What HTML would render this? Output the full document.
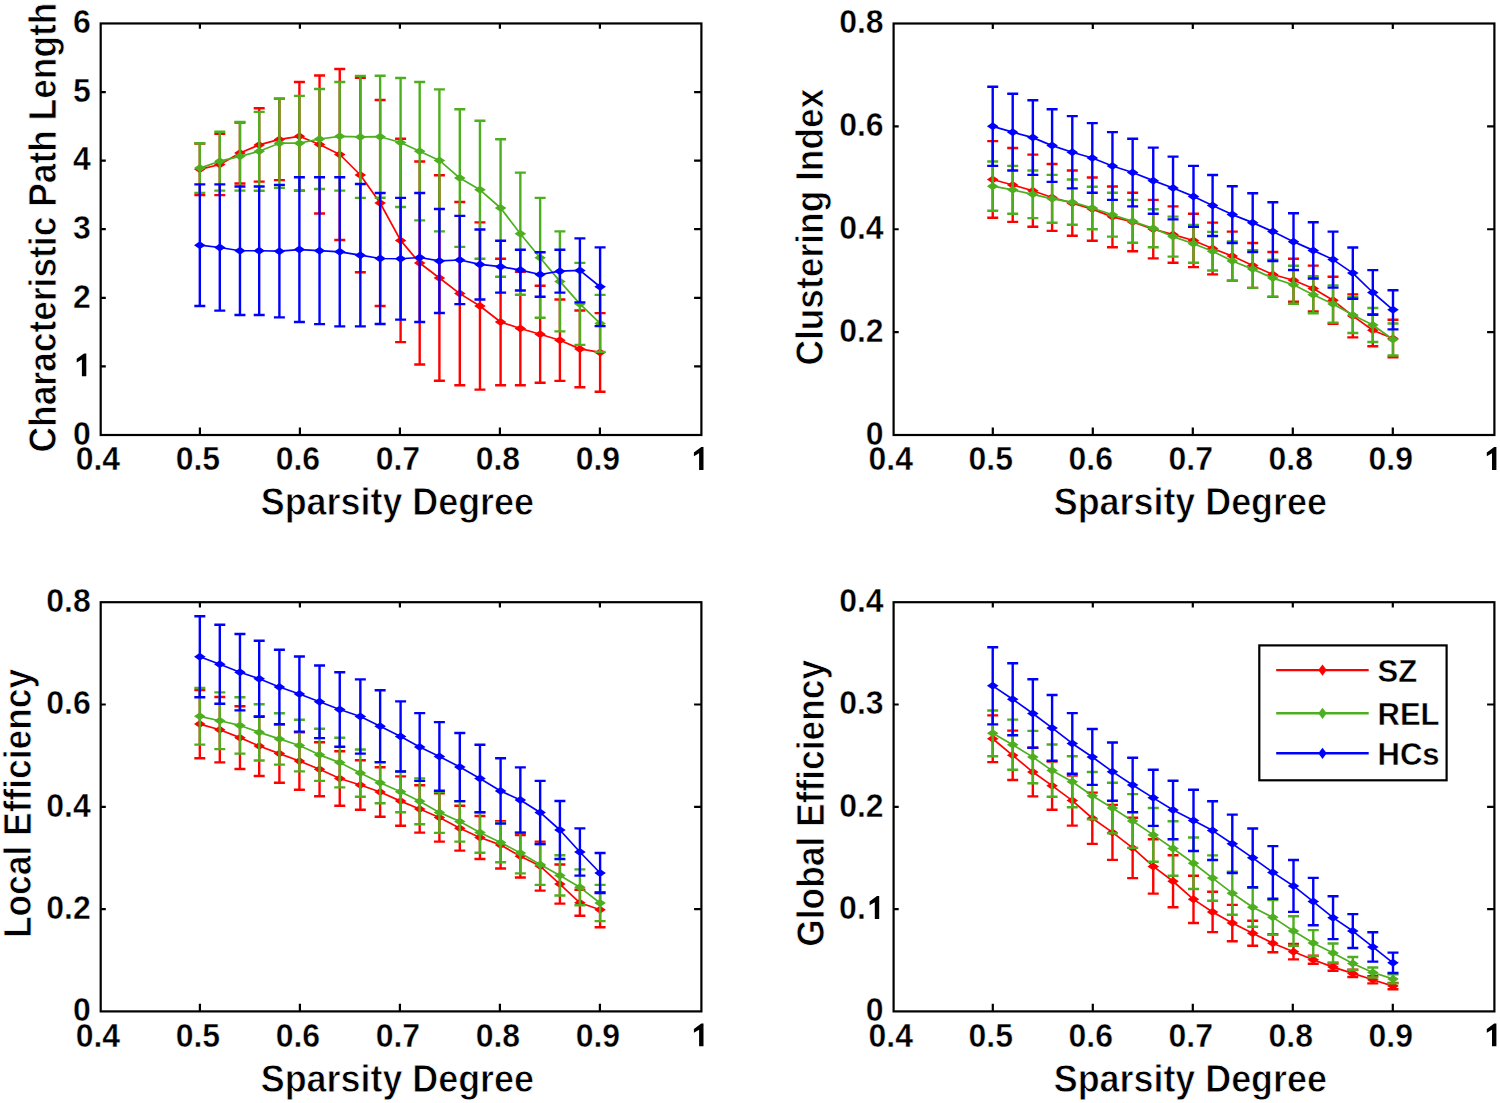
<!DOCTYPE html>
<html><head><meta charset="utf-8"><style>
html,body{margin:0;padding:0;background:#fff;}
body{width:1500px;height:1103px;overflow:hidden;}
svg{display:block;}
text{font-family:"Liberation Sans", sans-serif;font-weight:bold;fill:#000;}
.tk{font-size:32px;stroke:#fff;stroke-width:0.4px;}
.lb{font-size:35.5px;stroke:#fff;stroke-width:0.7px;}
.lg{font-size:31px;stroke:#fff;stroke-width:0.4px;}
</style></head><body>
<svg width="1500" height="1103" viewBox="0 0 1500 1103">
<rect width="1500" height="1103" fill="#fff"/>
<path d="M199.82 143.5V195.1M194.32 143.5H205.32M194.32 195.1H205.32M219.8 133.9V195.1M214.3 133.9H225.3M214.3 195.1H225.3M239.95 122.5V183.5M234.45 122.5H245.45M234.45 183.5H245.45M259.2 108.2V181.6M253.7 108.2H264.7M253.7 181.6H264.7M279.4 98.7V180.1M273.9 98.7H284.9M273.9 180.1H284.9M299.4 82V190.6M293.9 82H304.9M293.9 190.6H304.9M319.55 75.5V213.5M314.05 75.5H325.05M314.05 213.5H325.05M339.75 69V240M334.25 69H345.25M334.25 240H345.25M360.35 77.8V272.2M354.85 77.8H365.85M354.85 272.2H365.85M380.15 100V306M374.65 100H385.65M374.65 306H385.65M400.6 138.7V342.1M395.1 138.7H406.1M395.1 342.1H406.1M419.7 161.5V364.5M414.2 161.5H425.2M414.2 364.5H425.2M439.4 175.2V380.8M433.9 175.2H444.9M433.9 380.8H444.9M459.8 202V385.2M454.3 202H465.3M454.3 385.2H465.3M479.95 222.4V389.6M474.45 222.4H485.45M474.45 389.6H485.45M500.6 258.8V385.2M495.1 258.8H506.1M495.1 385.2H506.1M520.35 271.8V385.2M514.85 271.8H525.85M514.85 385.2H525.85M540.15 285.8V382.8M534.65 285.8H545.65M534.65 382.8H545.65M559.9 299.5V380.9M554.4 299.5H565.4M554.4 380.9H565.4M579.9 310.5V387.3M574.4 310.5H585.4M574.4 387.3H585.4M600.1 313.1V391.7M594.6 313.1H605.6M594.6 391.7H605.6" stroke="#ff0000" stroke-width="2.4" fill="none"/>
<polyline points="199.82,169.3 219.8,164.5 239.95,153 259.2,144.9 279.4,139.4 299.4,136.3 319.55,144.5 339.75,154.5 360.35,175 380.15,203 400.6,240.4 419.7,263 439.4,278 459.8,293.6 479.95,306 500.6,322 520.35,328.5 540.15,334.3 559.9,340.2 579.9,348.9 600.1,352.4" stroke="#ff0000" stroke-width="1.7" fill="none" stroke-linejoin="round"/>
<path d="M194.02 169.3L199.82 165.3L205.62 169.3L199.82 173.3ZM214 164.5L219.8 160.5L225.6 164.5L219.8 168.5ZM234.15 153L239.95 149L245.75 153L239.95 157ZM253.4 144.9L259.2 140.9L265 144.9L259.2 148.9ZM273.6 139.4L279.4 135.4L285.2 139.4L279.4 143.4ZM293.6 136.3L299.4 132.3L305.2 136.3L299.4 140.3ZM313.75 144.5L319.55 140.5L325.35 144.5L319.55 148.5ZM333.95 154.5L339.75 150.5L345.55 154.5L339.75 158.5ZM354.55 175L360.35 171L366.15 175L360.35 179ZM374.35 203L380.15 199L385.95 203L380.15 207ZM394.8 240.4L400.6 236.4L406.4 240.4L400.6 244.4ZM413.9 263L419.7 259L425.5 263L419.7 267ZM433.6 278L439.4 274L445.2 278L439.4 282ZM454 293.6L459.8 289.6L465.6 293.6L459.8 297.6ZM474.15 306L479.95 302L485.75 306L479.95 310ZM494.8 322L500.6 318L506.4 322L500.6 326ZM514.55 328.5L520.35 324.5L526.15 328.5L520.35 332.5ZM534.35 334.3L540.15 330.3L545.95 334.3L540.15 338.3ZM554.1 340.2L559.9 336.2L565.7 340.2L559.9 344.2ZM574.1 348.9L579.9 344.9L585.7 348.9L579.9 352.9ZM594.3 352.4L600.1 348.4L605.9 352.4L600.1 356.4Z" fill="#ff0000"/>
<path d="M199.82 143.3V192.9M194.32 143.3H205.32M194.32 192.9H205.32M219.8 131.8V190.6M214.3 131.8H225.3M214.3 190.6H225.3M239.95 122V190.6M234.45 122H245.45M234.45 190.6H245.45M259.2 111.9V190.7M253.7 111.9H264.7M253.7 190.7H264.7M279.4 98.7V187.7M273.9 98.7H284.9M273.9 187.7H284.9M299.4 95.9V190.5M293.9 95.9H304.9M293.9 190.5H304.9M319.55 89V189M314.05 89H325.05M314.05 189H325.05M339.75 82V190.6M334.25 82H345.25M334.25 190.6H345.25M360.35 75.9V197.9M354.85 75.9H365.85M354.85 197.9H365.85M380.15 75.7V197.7M374.65 75.7H385.65M374.65 197.7H385.65M400.6 78V207M395.1 78H406.1M395.1 207H406.1M419.7 82V220.4M414.2 82H425.2M414.2 220.4H425.2M439.4 89.4V231.4M433.9 89.4H444.9M433.9 231.4H444.9M459.8 109.3V246.9M454.3 109.3H465.3M454.3 246.9H465.3M479.95 120.8V258.8M474.45 120.8H485.45M474.45 258.8H485.45M500.6 139.2V276.8M495.1 139.2H506.1M495.1 276.8H506.1M520.35 172.6V294.8M514.85 172.6H525.85M514.85 294.8H525.85M540.15 197.9V317.7M534.65 197.9H545.65M534.65 317.7H545.65M559.9 231.4V331.4M554.4 231.4H565.4M554.4 331.4H565.4M579.9 262.9V344.9M574.4 262.9H585.4M574.4 344.9H585.4M600.1 294.9V351.9M594.6 294.9H605.6M594.6 351.9H605.6" stroke="#4daf1f" stroke-width="2.4" fill="none"/>
<polyline points="199.82,168.1 219.8,161.2 239.95,156.3 259.2,151.3 279.4,143.2 299.4,143.2 319.55,139 339.75,136.3 360.35,136.9 380.15,136.7 400.6,142.5 419.7,151.2 439.4,160.4 459.8,178.1 479.95,189.8 500.6,208 520.35,233.7 540.15,257.8 559.9,281.4 579.9,303.9 600.1,323.4" stroke="#4daf1f" stroke-width="1.7" fill="none" stroke-linejoin="round"/>
<path d="M194.02 168.1L199.82 164.1L205.62 168.1L199.82 172.1ZM214 161.2L219.8 157.2L225.6 161.2L219.8 165.2ZM234.15 156.3L239.95 152.3L245.75 156.3L239.95 160.3ZM253.4 151.3L259.2 147.3L265 151.3L259.2 155.3ZM273.6 143.2L279.4 139.2L285.2 143.2L279.4 147.2ZM293.6 143.2L299.4 139.2L305.2 143.2L299.4 147.2ZM313.75 139L319.55 135L325.35 139L319.55 143ZM333.95 136.3L339.75 132.3L345.55 136.3L339.75 140.3ZM354.55 136.9L360.35 132.9L366.15 136.9L360.35 140.9ZM374.35 136.7L380.15 132.7L385.95 136.7L380.15 140.7ZM394.8 142.5L400.6 138.5L406.4 142.5L400.6 146.5ZM413.9 151.2L419.7 147.2L425.5 151.2L419.7 155.2ZM433.6 160.4L439.4 156.4L445.2 160.4L439.4 164.4ZM454 178.1L459.8 174.1L465.6 178.1L459.8 182.1ZM474.15 189.8L479.95 185.8L485.75 189.8L479.95 193.8ZM494.8 208L500.6 204L506.4 208L500.6 212ZM514.55 233.7L520.35 229.7L526.15 233.7L520.35 237.7ZM534.35 257.8L540.15 253.8L545.95 257.8L540.15 261.8ZM554.1 281.4L559.9 277.4L565.7 281.4L559.9 285.4ZM574.1 303.9L579.9 299.9L585.7 303.9L579.9 307.9ZM594.3 323.4L600.1 319.4L605.9 323.4L600.1 327.4Z" fill="#4daf1f"/>
<path d="M199.82 184.4V306M194.32 184.4H205.32M194.32 306H205.32M219.8 184.4V310.6M214.3 184.4H225.3M214.3 310.6H225.3M239.95 186.5V315M234.45 186.5H245.45M234.45 315H245.45M259.2 186.5V315M253.7 186.5H264.7M253.7 315H264.7M279.4 184.9V317.4M273.9 184.9H284.9M273.9 317.4H284.9M299.4 177.2V322M293.9 177.2H304.9M293.9 322H304.9M319.55 177.2V324.1M314.05 177.2H325.05M314.05 324.1H325.05M339.75 177.2V326.4M334.25 177.2H345.25M334.25 326.4H345.25M360.35 184V326.4M354.85 184H365.85M354.85 326.4H365.85M380.15 193V324M374.65 193H385.65M374.65 324H385.65M400.6 197.9V319.6M395.1 197.9H406.1M395.1 319.6H406.1M419.7 193V322M414.2 193H425.2M414.2 322H425.2M439.4 208.95V312.95M433.9 208.95H444.9M433.9 312.95H444.9M459.8 215.9V304.1M454.3 215.9H465.3M454.3 304.1H465.3M479.95 229.45V299.45M474.45 229.45H485.45M474.45 299.45H485.45M500.6 240.7V292.6M495.1 240.7H506.1M495.1 292.6H506.1M520.35 249.7V290.5M514.85 249.7H525.85M514.85 290.5H525.85M540.15 252.3V296.7M534.65 252.3H545.65M534.65 296.7H545.65M559.9 249.7V292.6M554.4 249.7H565.4M554.4 292.6H565.4M579.9 238.4V302.4M574.4 238.4H585.4M574.4 302.4H585.4M600.1 247.4V326.1M594.6 247.4H605.6M594.6 326.1H605.6" stroke="#0000ff" stroke-width="2.4" fill="none"/>
<polyline points="199.82,245.2 219.8,247.5 239.95,250.75 259.2,250.75 279.4,251.15 299.4,249.6 319.55,250.65 339.75,251.8 360.35,255.2 380.15,258.5 400.6,258.75 419.7,257.5 439.4,260.95 459.8,260 479.95,264.45 500.6,266.65 520.35,270.1 540.15,274.5 559.9,271.15 579.9,270.4 600.1,286.75" stroke="#0000ff" stroke-width="1.7" fill="none" stroke-linejoin="round"/>
<path d="M194.02 245.2L199.82 241.2L205.62 245.2L199.82 249.2ZM214 247.5L219.8 243.5L225.6 247.5L219.8 251.5ZM234.15 250.75L239.95 246.75L245.75 250.75L239.95 254.75ZM253.4 250.75L259.2 246.75L265 250.75L259.2 254.75ZM273.6 251.15L279.4 247.15L285.2 251.15L279.4 255.15ZM293.6 249.6L299.4 245.6L305.2 249.6L299.4 253.6ZM313.75 250.65L319.55 246.65L325.35 250.65L319.55 254.65ZM333.95 251.8L339.75 247.8L345.55 251.8L339.75 255.8ZM354.55 255.2L360.35 251.2L366.15 255.2L360.35 259.2ZM374.35 258.5L380.15 254.5L385.95 258.5L380.15 262.5ZM394.8 258.75L400.6 254.75L406.4 258.75L400.6 262.75ZM413.9 257.5L419.7 253.5L425.5 257.5L419.7 261.5ZM433.6 260.95L439.4 256.95L445.2 260.95L439.4 264.95ZM454 260L459.8 256L465.6 260L459.8 264ZM474.15 264.45L479.95 260.45L485.75 264.45L479.95 268.45ZM494.8 266.65L500.6 262.65L506.4 266.65L500.6 270.65ZM514.55 270.1L520.35 266.1L526.15 270.1L520.35 274.1ZM534.35 274.5L540.15 270.5L545.95 274.5L540.15 278.5ZM554.1 271.15L559.9 267.15L565.7 271.15L559.9 275.15ZM574.1 270.4L579.9 266.4L585.7 270.4L579.9 274.4ZM594.3 286.75L600.1 282.75L605.9 286.75L600.1 290.75Z" fill="#0000ff"/>
<path d="M199.9 435V427.4M199.9 23.45V28.85M299.9 435V427.4M299.9 23.45V28.85M399.9 435V427.4M399.9 23.45V28.85M499.9 435V427.4M499.9 23.45V28.85M599.9 435V427.4M599.9 23.45V28.85M100.7 366.41H105.8M701.4 366.41H694.1M100.7 297.82H105.8M701.4 297.82H694.1M100.7 229.22H105.8M701.4 229.22H694.1M100.7 160.63H105.8M701.4 160.63H694.1M100.7 92.04H105.8M701.4 92.04H694.1" stroke="#000" stroke-width="2.2" fill="none"/>
<rect x="100.7" y="23.45" width="600.7" height="411.55" fill="none" stroke="#000" stroke-width="2.2"/>
<text transform="translate(97.9 470.4) scale(1 1.045)" class="tk" text-anchor="middle">0.4</text>
<text transform="translate(197.9 470.4) scale(1 1.045)" class="tk" text-anchor="middle">0.5</text>
<text transform="translate(297.9 470.4) scale(1 1.045)" class="tk" text-anchor="middle">0.6</text>
<text transform="translate(397.9 470.4) scale(1 1.045)" class="tk" text-anchor="middle">0.7</text>
<text transform="translate(497.9 470.4) scale(1 1.045)" class="tk" text-anchor="middle">0.8</text>
<text transform="translate(597.9 470.4) scale(1 1.045)" class="tk" text-anchor="middle">0.9</text>
<path d="M703.5 469.9L703.5 447.1L701.3 447.1L693.9 452.5L693.9 456.3L699.1 453.3L699.1 469.9Z" fill="#000"/>
<text transform="translate(90.7 444.8) scale(1 1.05)" class="tk" text-anchor="end">0</text>
<path d="M86.3 376.21L86.3 353.41L84.1 353.41L76.7 358.81L76.7 362.61L81.9 359.61L81.9 376.21Z" fill="#000"/>
<text transform="translate(90.7 307.62) scale(1 1.05)" class="tk" text-anchor="end">2</text>
<text transform="translate(90.7 239.03) scale(1 1.05)" class="tk" text-anchor="end">3</text>
<text transform="translate(90.7 170.43) scale(1 1.05)" class="tk" text-anchor="end">4</text>
<text transform="translate(90.7 101.84) scale(1 1.05)" class="tk" text-anchor="end">5</text>
<text transform="translate(90.7 33.25) scale(1 1.05)" class="tk" text-anchor="end">6</text>
<text transform="translate(397.35 515.1) scale(1.011 1.09)" class="lb" text-anchor="middle">Sparsity Degree</text>
<text transform="translate(56 227.55) rotate(-90) scale(0.996 1.07)" class="lb" text-anchor="middle">Characteristic Path Length</text>
<path d="M992.72 141.1V217.8M987.22 141.1H998.22M987.22 217.8H998.22M1012.7 148V221.9M1007.2 148H1018.2M1007.2 221.9H1018.2M1032.85 154.6V226.8M1027.35 154.6H1038.35M1027.35 226.8H1038.35M1052.1 164V230.9M1046.6 164H1057.6M1046.6 230.9H1057.6M1072.3 170.5V235.8M1066.8 170.5H1077.8M1066.8 235.8H1077.8M1092.3 177.5V240.7M1086.8 177.5H1097.8M1086.8 240.7H1097.8M1112.45 186.5V247.2M1106.95 186.5H1117.95M1106.95 247.2H1117.95M1132.65 192.8V251.3M1127.15 192.8H1138.15M1127.15 251.3H1138.15M1153.25 199.9V258.4M1147.75 199.9H1158.75M1147.75 258.4H1158.75M1173.05 206.4V262.8M1167.55 206.4H1178.55M1167.55 262.8H1178.55M1193.5 213.75V267.15M1188 213.75H1199M1188 267.15H1199M1212.6 222.6V274.4M1207.1 222.6H1218.1M1207.1 274.4H1218.1M1232.3 231.6V280.6M1226.8 231.6H1237.8M1226.8 280.6H1237.8M1252.7 243V287.9M1247.2 243H1258.2M1247.2 287.9H1258.2M1272.85 252V296.9M1267.35 252H1278.35M1267.35 296.9H1278.35M1293.5 258.8V301.8M1288 258.8H1299M1288 301.8H1299M1313.25 265.6V311.4M1307.75 265.6H1318.75M1307.75 311.4H1318.75M1333.05 276.8V323.8M1327.55 276.8H1338.55M1327.55 323.8H1338.55M1352.8 294.4V337.4M1347.3 294.4H1358.3M1347.3 337.4H1358.3M1372.8 314.3V346.3M1367.3 314.3H1378.3M1367.3 346.3H1378.3M1393 319.7V357.3M1387.5 319.7H1398.5M1387.5 357.3H1398.5" stroke="#ff0000" stroke-width="2.4" fill="none"/>
<polyline points="992.72,179.45 1012.7,184.95 1032.85,190.7 1052.1,197.45 1072.3,203.15 1092.3,209.1 1112.45,216.85 1132.65,222.05 1153.25,229.15 1173.05,234.6 1193.5,240.45 1212.6,248.5 1232.3,256.1 1252.7,265.45 1272.85,274.45 1293.5,280.3 1313.25,288.5 1333.05,300.3 1352.8,315.9 1372.8,330.3 1393,338.5" stroke="#ff0000" stroke-width="1.7" fill="none" stroke-linejoin="round"/>
<path d="M986.92 179.45L992.72 175.45L998.52 179.45L992.72 183.45ZM1006.9 184.95L1012.7 180.95L1018.5 184.95L1012.7 188.95ZM1027.05 190.7L1032.85 186.7L1038.65 190.7L1032.85 194.7ZM1046.3 197.45L1052.1 193.45L1057.9 197.45L1052.1 201.45ZM1066.5 203.15L1072.3 199.15L1078.1 203.15L1072.3 207.15ZM1086.5 209.1L1092.3 205.1L1098.1 209.1L1092.3 213.1ZM1106.65 216.85L1112.45 212.85L1118.25 216.85L1112.45 220.85ZM1126.85 222.05L1132.65 218.05L1138.45 222.05L1132.65 226.05ZM1147.45 229.15L1153.25 225.15L1159.05 229.15L1153.25 233.15ZM1167.25 234.6L1173.05 230.6L1178.85 234.6L1173.05 238.6ZM1187.7 240.45L1193.5 236.45L1199.3 240.45L1193.5 244.45ZM1206.8 248.5L1212.6 244.5L1218.4 248.5L1212.6 252.5ZM1226.5 256.1L1232.3 252.1L1238.1 256.1L1232.3 260.1ZM1246.9 265.45L1252.7 261.45L1258.5 265.45L1252.7 269.45ZM1267.05 274.45L1272.85 270.45L1278.65 274.45L1272.85 278.45ZM1287.7 280.3L1293.5 276.3L1299.3 280.3L1293.5 284.3ZM1307.45 288.5L1313.25 284.5L1319.05 288.5L1313.25 292.5ZM1327.25 300.3L1333.05 296.3L1338.85 300.3L1333.05 304.3ZM1347 315.9L1352.8 311.9L1358.6 315.9L1352.8 319.9ZM1367 330.3L1372.8 326.3L1378.6 330.3L1372.8 334.3ZM1387.2 338.5L1393 334.5L1398.8 338.5L1393 342.5Z" fill="#ff0000"/>
<path d="M992.72 161.5V210.8M987.22 161.5H998.22M987.22 210.8H998.22M1012.7 165.9V213.7M1007.2 165.9H1018.2M1007.2 213.7H1018.2M1032.85 170.5V218.1M1027.35 170.5H1038.35M1027.35 218.1H1038.35M1052.1 174.9V222.7M1046.6 174.9H1057.6M1046.6 222.7H1057.6M1072.3 179.5V224.8M1066.8 179.5H1077.8M1066.8 224.8H1077.8M1092.3 186.8V229.2M1086.8 186.8H1097.8M1086.8 229.2H1097.8M1112.45 192.8V236.6M1106.95 192.8H1117.95M1106.95 236.6H1117.95M1132.65 199.9V242.8M1127.15 199.9H1138.15M1127.15 242.8H1138.15M1153.25 209.2V247.3M1147.75 209.2H1158.75M1147.75 247.3H1158.75M1173.05 216.6V256.6M1167.55 216.6H1178.55M1167.55 256.6H1178.55M1193.5 224.9V262.7M1188 224.9H1199M1188 262.7H1199M1212.6 231.9V270.5M1207.1 231.9H1218.1M1207.1 270.5H1218.1M1232.3 241.4V280.6M1226.8 241.4H1237.8M1226.8 280.6H1237.8M1252.7 250.3V287.9M1247.2 250.3H1258.2M1247.2 287.9H1258.2M1272.85 259.6V296.6M1267.35 259.6H1278.35M1267.35 296.6H1278.35M1293.5 265.8V303.8M1288 265.8H1299M1288 303.8H1299M1313.25 276.2V313.2M1307.75 276.2H1318.75M1307.75 313.2H1318.75M1333.05 285.4V322.6M1327.55 285.4H1338.55M1327.55 322.6H1338.55M1352.8 297.2V333M1347.3 297.2H1358.3M1347.3 333H1358.3M1372.8 308V342M1367.3 308H1378.3M1367.3 342H1378.3M1393 323.5V355.5M1387.5 323.5H1398.5M1387.5 355.5H1398.5" stroke="#4daf1f" stroke-width="2.4" fill="none"/>
<polyline points="992.72,186.15 1012.7,189.8 1032.85,194.3 1052.1,198.8 1072.3,202.15 1092.3,208 1112.45,214.7 1132.65,221.35 1153.25,228.25 1173.05,236.6 1193.5,243.8 1212.6,251.2 1232.3,261 1252.7,269.1 1272.85,278.1 1293.5,284.8 1313.25,294.7 1333.05,304 1352.8,315.1 1372.8,325 1393,339.5" stroke="#4daf1f" stroke-width="1.7" fill="none" stroke-linejoin="round"/>
<path d="M986.92 186.15L992.72 182.15L998.52 186.15L992.72 190.15ZM1006.9 189.8L1012.7 185.8L1018.5 189.8L1012.7 193.8ZM1027.05 194.3L1032.85 190.3L1038.65 194.3L1032.85 198.3ZM1046.3 198.8L1052.1 194.8L1057.9 198.8L1052.1 202.8ZM1066.5 202.15L1072.3 198.15L1078.1 202.15L1072.3 206.15ZM1086.5 208L1092.3 204L1098.1 208L1092.3 212ZM1106.65 214.7L1112.45 210.7L1118.25 214.7L1112.45 218.7ZM1126.85 221.35L1132.65 217.35L1138.45 221.35L1132.65 225.35ZM1147.45 228.25L1153.25 224.25L1159.05 228.25L1153.25 232.25ZM1167.25 236.6L1173.05 232.6L1178.85 236.6L1173.05 240.6ZM1187.7 243.8L1193.5 239.8L1199.3 243.8L1193.5 247.8ZM1206.8 251.2L1212.6 247.2L1218.4 251.2L1212.6 255.2ZM1226.5 261L1232.3 257L1238.1 261L1232.3 265ZM1246.9 269.1L1252.7 265.1L1258.5 269.1L1252.7 273.1ZM1267.05 278.1L1272.85 274.1L1278.65 278.1L1272.85 282.1ZM1287.7 284.8L1293.5 280.8L1299.3 284.8L1293.5 288.8ZM1307.45 294.7L1313.25 290.7L1319.05 294.7L1313.25 298.7ZM1327.25 304L1333.05 300L1338.85 304L1333.05 308ZM1347 315.1L1352.8 311.1L1358.6 315.1L1352.8 319.1ZM1367 325L1372.8 321L1378.6 325L1372.8 329ZM1387.2 339.5L1393 335.5L1398.8 339.5L1393 343.5Z" fill="#4daf1f"/>
<path d="M992.72 86.8V165.9M987.22 86.8H998.22M987.22 165.9H998.22M1012.7 93.8V170.5M1007.2 93.8H1018.2M1007.2 170.5H1018.2M1032.85 100.3V174.9M1027.35 100.3H1038.35M1027.35 174.9H1038.35M1052.1 109.3V181.9M1046.6 109.3H1057.6M1046.6 181.9H1057.6M1072.3 116.1V188.4M1066.8 116.1H1077.8M1066.8 188.4H1077.8M1092.3 123.1V192.8M1086.8 123.1H1097.8M1086.8 192.8H1097.8M1112.45 132.1V199.9M1106.95 132.1H1117.95M1106.95 199.9H1117.95M1132.65 138.7V206.4M1127.15 138.7H1138.15M1127.15 206.4H1138.15M1153.25 147.6V213.7M1147.75 147.6H1158.75M1147.75 213.7H1158.75M1173.05 156.6V219.4M1167.55 156.6H1178.55M1167.55 219.4H1178.55M1193.5 165.9V226.9M1188 165.9H1199M1188 226.9H1199M1212.6 175V236M1207.1 175H1218.1M1207.1 236H1218.1M1232.3 186.2V243M1226.8 186.2H1237.8M1226.8 243H1237.8M1252.7 193.3V252M1247.2 193.3H1258.2M1247.2 252H1258.2M1272.85 202.2V261M1267.35 202.2H1278.35M1267.35 261H1278.35M1293.5 213.3V270M1288 213.3H1299M1288 270H1299M1313.25 222.3V278.5M1307.75 222.3H1318.75M1307.75 278.5H1318.75M1333.05 231.6V287.6M1327.55 231.6H1338.55M1327.55 287.6H1338.55M1352.8 247.5V298.7M1347.3 247.5H1358.3M1347.3 298.7H1358.3M1372.8 270.1V314.9M1367.3 270.1H1378.3M1367.3 314.9H1378.3M1393 290.2V329.4M1387.5 290.2H1398.5M1387.5 329.4H1398.5" stroke="#0000ff" stroke-width="2.4" fill="none"/>
<polyline points="992.72,126.35 1012.7,132.15 1032.85,137.6 1052.1,145.6 1072.3,152.25 1092.3,157.95 1112.45,166 1132.65,172.55 1153.25,180.65 1173.05,188 1193.5,196.4 1212.6,205.5 1232.3,214.6 1252.7,222.65 1272.85,231.6 1293.5,241.65 1313.25,250.4 1333.05,259.6 1352.8,273.1 1372.8,292.5 1393,309.8" stroke="#0000ff" stroke-width="1.7" fill="none" stroke-linejoin="round"/>
<path d="M986.92 126.35L992.72 122.35L998.52 126.35L992.72 130.35ZM1006.9 132.15L1012.7 128.15L1018.5 132.15L1012.7 136.15ZM1027.05 137.6L1032.85 133.6L1038.65 137.6L1032.85 141.6ZM1046.3 145.6L1052.1 141.6L1057.9 145.6L1052.1 149.6ZM1066.5 152.25L1072.3 148.25L1078.1 152.25L1072.3 156.25ZM1086.5 157.95L1092.3 153.95L1098.1 157.95L1092.3 161.95ZM1106.65 166L1112.45 162L1118.25 166L1112.45 170ZM1126.85 172.55L1132.65 168.55L1138.45 172.55L1132.65 176.55ZM1147.45 180.65L1153.25 176.65L1159.05 180.65L1153.25 184.65ZM1167.25 188L1173.05 184L1178.85 188L1173.05 192ZM1187.7 196.4L1193.5 192.4L1199.3 196.4L1193.5 200.4ZM1206.8 205.5L1212.6 201.5L1218.4 205.5L1212.6 209.5ZM1226.5 214.6L1232.3 210.6L1238.1 214.6L1232.3 218.6ZM1246.9 222.65L1252.7 218.65L1258.5 222.65L1252.7 226.65ZM1267.05 231.6L1272.85 227.6L1278.65 231.6L1272.85 235.6ZM1287.7 241.65L1293.5 237.65L1299.3 241.65L1293.5 245.65ZM1307.45 250.4L1313.25 246.4L1319.05 250.4L1313.25 254.4ZM1327.25 259.6L1333.05 255.6L1338.85 259.6L1333.05 263.6ZM1347 273.1L1352.8 269.1L1358.6 273.1L1352.8 277.1ZM1367 292.5L1372.8 288.5L1378.6 292.5L1372.8 296.5ZM1387.2 309.8L1393 305.8L1398.8 309.8L1393 313.8Z" fill="#0000ff"/>
<path d="M992.8 435V427.4M992.8 23.5V28.9M1092.8 435V427.4M1092.8 23.5V28.9M1192.8 435V427.4M1192.8 23.5V28.9M1292.8 435V427.4M1292.8 23.5V28.9M1392.8 435V427.4M1392.8 23.5V28.9M893.6 332.12H898.7M1494.4 332.12H1487.1M893.6 229.25H898.7M1494.4 229.25H1487.1M893.6 126.38H898.7M1494.4 126.38H1487.1" stroke="#000" stroke-width="2.2" fill="none"/>
<rect x="893.6" y="23.5" width="600.8" height="411.5" fill="none" stroke="#000" stroke-width="2.2"/>
<text transform="translate(890.8 470.4) scale(1 1.045)" class="tk" text-anchor="middle">0.4</text>
<text transform="translate(990.8 470.4) scale(1 1.045)" class="tk" text-anchor="middle">0.5</text>
<text transform="translate(1090.8 470.4) scale(1 1.045)" class="tk" text-anchor="middle">0.6</text>
<text transform="translate(1190.8 470.4) scale(1 1.045)" class="tk" text-anchor="middle">0.7</text>
<text transform="translate(1290.8 470.4) scale(1 1.045)" class="tk" text-anchor="middle">0.8</text>
<text transform="translate(1390.8 470.4) scale(1 1.045)" class="tk" text-anchor="middle">0.9</text>
<path d="M1496.4 469.9L1496.4 447.1L1494.2 447.1L1486.8 452.5L1486.8 456.3L1492 453.3L1492 469.9Z" fill="#000"/>
<text transform="translate(883.6 444.8) scale(1 1.05)" class="tk" text-anchor="end">0</text>
<text transform="translate(883.6 341.93) scale(1 1.05)" class="tk" text-anchor="end">0.2</text>
<text transform="translate(883.6 239.05) scale(1 1.05)" class="tk" text-anchor="end">0.4</text>
<text transform="translate(883.6 136.18) scale(1 1.05)" class="tk" text-anchor="end">0.6</text>
<text transform="translate(883.6 33.3) scale(1 1.05)" class="tk" text-anchor="end">0.8</text>
<text transform="translate(1190.3 515.1) scale(1.011 1.09)" class="lb" text-anchor="middle">Sparsity Degree</text>
<text transform="translate(823.4 227.1) rotate(-90) scale(0.996 1.07)" class="lb" text-anchor="middle">Clustering Index</text>
<path d="M199.82 690V758.2M194.32 690H205.32M194.32 758.2H205.32M219.8 697V762.4M214.3 697H225.3M214.3 762.4H225.3M239.95 706.3V769M234.45 706.3H245.45M234.45 769H245.45M259.2 716.1V776M253.7 716.1H264.7M253.7 776H264.7M279.4 724.4V782.8M273.9 724.4H284.9M273.9 782.8H284.9M299.4 732.4V789.7M293.9 732.4H304.9M293.9 789.7H304.9M319.55 742.2V796.2M314.05 742.2H325.05M314.05 796.2H325.05M339.75 751.2V805.7M334.25 751.2H345.25M334.25 805.7H345.25M360.35 760.2V809.8M354.85 760.2H365.85M354.85 809.8H365.85M380.15 767.2V816.8M374.65 767.2H385.65M374.65 816.8H385.65M400.6 776.4V825.8M395.1 776.4H406.1M395.1 825.8H406.1M419.7 785.3V832.6M414.2 785.3H425.2M414.2 832.6H425.2M439.4 793.4V841.6M433.9 793.4H444.9M433.9 841.6H444.9M459.8 805.7V850.6M454.3 805.7H465.3M454.3 850.6H465.3M479.95 816V859M474.45 816H485.45M474.45 859H485.45M500.6 821.3V868.5M495.1 821.3H506.1M495.1 868.5H506.1M520.35 835.1V877.5M514.85 835.1H525.85M514.85 877.5H525.85M540.15 841.6V890.6M534.65 841.6H545.65M534.65 890.6H545.65M559.9 864.5V903.6M554.4 864.5H565.4M554.4 903.6H565.4M579.9 889.8V915.8M574.4 889.8H585.4M574.4 915.8H585.4M600.1 892.2V927.3M594.6 892.2H605.6M594.6 927.3H605.6" stroke="#ff0000" stroke-width="2.4" fill="none"/>
<polyline points="199.82,724.1 219.8,729.7 239.95,737.65 259.2,746.05 279.4,753.6 299.4,761.05 319.55,769.2 339.75,778.45 360.35,785 380.15,792 400.6,801.1 419.7,808.95 439.4,817.5 459.8,828.15 479.95,837.5 500.6,844.9 520.35,856.3 540.15,866.1 559.9,884.05 579.9,902.8 600.1,909.75" stroke="#ff0000" stroke-width="1.7" fill="none" stroke-linejoin="round"/>
<path d="M194.02 724.1L199.82 720.1L205.62 724.1L199.82 728.1ZM214 729.7L219.8 725.7L225.6 729.7L219.8 733.7ZM234.15 737.65L239.95 733.65L245.75 737.65L239.95 741.65ZM253.4 746.05L259.2 742.05L265 746.05L259.2 750.05ZM273.6 753.6L279.4 749.6L285.2 753.6L279.4 757.6ZM293.6 761.05L299.4 757.05L305.2 761.05L299.4 765.05ZM313.75 769.2L319.55 765.2L325.35 769.2L319.55 773.2ZM333.95 778.45L339.75 774.45L345.55 778.45L339.75 782.45ZM354.55 785L360.35 781L366.15 785L360.35 789ZM374.35 792L380.15 788L385.95 792L380.15 796ZM394.8 801.1L400.6 797.1L406.4 801.1L400.6 805.1ZM413.9 808.95L419.7 804.95L425.5 808.95L419.7 812.95ZM433.6 817.5L439.4 813.5L445.2 817.5L439.4 821.5ZM454 828.15L459.8 824.15L465.6 828.15L459.8 832.15ZM474.15 837.5L479.95 833.5L485.75 837.5L479.95 841.5ZM494.8 844.9L500.6 840.9L506.4 844.9L500.6 848.9ZM514.55 856.3L520.35 852.3L526.15 856.3L520.35 860.3ZM534.35 866.1L540.15 862.1L545.95 866.1L540.15 870.1ZM554.1 884.05L559.9 880.05L565.7 884.05L559.9 888.05ZM574.1 902.8L579.9 898.8L585.7 902.8L579.9 906.8ZM594.3 909.75L600.1 905.75L605.9 909.75L600.1 913.75Z" fill="#ff0000"/>
<path d="M199.82 688V744.6M194.32 688H205.32M194.32 744.6H205.32M219.8 692.4V749.1M214.3 692.4H225.3M214.3 749.1H225.3M239.95 697.3V753.6M234.45 697.3H245.45M234.45 753.6H245.45M259.2 704.2V760.5M253.7 704.2H264.7M253.7 760.5H264.7M279.4 713.2V764.6M273.9 713.2H284.9M273.9 764.6H284.9M299.4 719.7V771.4M293.9 719.7H304.9M293.9 771.4H304.9M319.55 728.8V780.9M314.05 728.8H325.05M314.05 780.9H325.05M339.75 737.8V787.4M334.25 737.8H345.25M334.25 787.4H345.25M360.35 749.5V796.7M354.85 749.5H365.85M354.85 796.7H365.85M380.15 762.3V803.3M374.65 762.3H385.65M374.65 803.3H385.65M400.6 771.4V812.2M395.1 771.4H406.1M395.1 812.2H406.1M419.7 778.4V824.2M414.2 778.4H425.2M414.2 824.2H425.2M439.4 791.9V832.9M433.9 791.9H444.9M433.9 832.9H444.9M459.8 801.4V841.6M454.3 801.4H465.3M454.3 841.6H465.3M479.95 812.4V852.8M474.45 812.4H485.45M474.45 852.8H485.45M500.6 822.5V862.3M495.1 822.5H506.1M495.1 862.3H506.1M520.35 832.6V873.4M514.85 832.6H525.85M514.85 873.4H525.85M540.15 844.1V884.9M534.65 844.1H545.65M534.65 884.9H545.65M559.9 855.3V895.5M554.4 855.3H565.4M554.4 895.5H565.4M579.9 869.4V905.2M574.4 869.4H585.4M574.4 905.2H585.4M600.1 884.9V921.1M594.6 884.9H605.6M594.6 921.1H605.6" stroke="#4daf1f" stroke-width="2.4" fill="none"/>
<polyline points="199.82,716.3 219.8,720.75 239.95,725.45 259.2,732.35 279.4,738.9 299.4,745.55 319.55,754.85 339.75,762.6 360.35,773.1 380.15,782.8 400.6,791.8 419.7,801.3 439.4,812.4 459.8,821.5 479.95,832.6 500.6,842.4 520.35,853 540.15,864.5 559.9,875.4 579.9,887.3 600.1,903" stroke="#4daf1f" stroke-width="1.7" fill="none" stroke-linejoin="round"/>
<path d="M194.02 716.3L199.82 712.3L205.62 716.3L199.82 720.3ZM214 720.75L219.8 716.75L225.6 720.75L219.8 724.75ZM234.15 725.45L239.95 721.45L245.75 725.45L239.95 729.45ZM253.4 732.35L259.2 728.35L265 732.35L259.2 736.35ZM273.6 738.9L279.4 734.9L285.2 738.9L279.4 742.9ZM293.6 745.55L299.4 741.55L305.2 745.55L299.4 749.55ZM313.75 754.85L319.55 750.85L325.35 754.85L319.55 758.85ZM333.95 762.6L339.75 758.6L345.55 762.6L339.75 766.6ZM354.55 773.1L360.35 769.1L366.15 773.1L360.35 777.1ZM374.35 782.8L380.15 778.8L385.95 782.8L380.15 786.8ZM394.8 791.8L400.6 787.8L406.4 791.8L400.6 795.8ZM413.9 801.3L419.7 797.3L425.5 801.3L419.7 805.3ZM433.6 812.4L439.4 808.4L445.2 812.4L439.4 816.4ZM454 821.5L459.8 817.5L465.6 821.5L459.8 825.5ZM474.15 832.6L479.95 828.6L485.75 832.6L479.95 836.6ZM494.8 842.4L500.6 838.4L506.4 842.4L500.6 846.4ZM514.55 853L520.35 849L526.15 853L520.35 857ZM534.35 864.5L540.15 860.5L545.95 864.5L540.15 868.5ZM554.1 875.4L559.9 871.4L565.7 875.4L559.9 879.4ZM574.1 887.3L579.9 883.3L585.7 887.3L579.9 891.3ZM594.3 903L600.1 899L605.9 903L600.1 907Z" fill="#4daf1f"/>
<path d="M199.82 616.2V697.3M194.32 616.2H205.32M194.32 697.3H205.32M219.8 624.7V703.8M214.3 624.7H225.3M214.3 703.8H225.3M239.95 634V710.4M234.45 634H245.45M234.45 710.4H245.45M259.2 640.7V716.9M253.7 640.7H264.7M253.7 716.9H264.7M279.4 649.7V724.2M273.9 649.7H284.9M273.9 724.2H284.9M299.4 656.5V731.6M293.9 656.5H304.9M293.9 731.6H304.9M319.55 665.5V738.1M314.05 665.5H325.05M314.05 738.1H325.05M339.75 672.3V746.8M334.25 672.3H345.25M334.25 746.8H345.25M360.35 679.4V753.6M354.85 679.4H365.85M354.85 753.6H365.85M380.15 690.3V762.1M374.65 690.3H385.65M374.65 762.1H385.65M400.6 701.35V771.55M395.1 701.35H406.1M395.1 771.55H406.1M419.7 713.1V780.9M414.2 713.1H425.2M414.2 780.9H425.2M439.4 722.1V790.7M433.9 722.1H444.9M433.9 790.7H444.9M459.8 733V801.1M454.3 733H465.3M454.3 801.1H465.3M479.95 744.8V812.2M474.45 744.8H485.45M474.45 812.2H485.45M500.6 758.3V823.6M495.1 758.3H506.1M495.1 823.6H506.1M520.35 767.35V832.65M514.85 767.35H525.85M514.85 832.65H525.85M540.15 780.9V844M534.65 780.9H545.65M534.65 844H545.65M559.9 801V859M554.4 801H565.4M554.4 859H565.4M579.9 828.35V875.65M574.4 828.35H585.4M574.4 875.65H585.4M600.1 853V893M594.6 853H605.6M594.6 893H605.6" stroke="#0000ff" stroke-width="2.4" fill="none"/>
<polyline points="199.82,656.75 219.8,664.25 239.95,672.2 259.2,678.8 279.4,686.95 299.4,694.05 319.55,701.8 339.75,709.55 360.35,716.5 380.15,726.2 400.6,736.45 419.7,747 439.4,756.4 459.8,767.05 479.95,778.5 500.6,790.95 520.35,800 540.15,812.45 559.9,830 579.9,852 600.1,873" stroke="#0000ff" stroke-width="1.7" fill="none" stroke-linejoin="round"/>
<path d="M194.02 656.75L199.82 652.75L205.62 656.75L199.82 660.75ZM214 664.25L219.8 660.25L225.6 664.25L219.8 668.25ZM234.15 672.2L239.95 668.2L245.75 672.2L239.95 676.2ZM253.4 678.8L259.2 674.8L265 678.8L259.2 682.8ZM273.6 686.95L279.4 682.95L285.2 686.95L279.4 690.95ZM293.6 694.05L299.4 690.05L305.2 694.05L299.4 698.05ZM313.75 701.8L319.55 697.8L325.35 701.8L319.55 705.8ZM333.95 709.55L339.75 705.55L345.55 709.55L339.75 713.55ZM354.55 716.5L360.35 712.5L366.15 716.5L360.35 720.5ZM374.35 726.2L380.15 722.2L385.95 726.2L380.15 730.2ZM394.8 736.45L400.6 732.45L406.4 736.45L400.6 740.45ZM413.9 747L419.7 743L425.5 747L419.7 751ZM433.6 756.4L439.4 752.4L445.2 756.4L439.4 760.4ZM454 767.05L459.8 763.05L465.6 767.05L459.8 771.05ZM474.15 778.5L479.95 774.5L485.75 778.5L479.95 782.5ZM494.8 790.95L500.6 786.95L506.4 790.95L500.6 794.95ZM514.55 800L520.35 796L526.15 800L520.35 804ZM534.35 812.45L540.15 808.45L545.95 812.45L540.15 816.45ZM554.1 830L559.9 826L565.7 830L559.9 834ZM574.1 852L579.9 848L585.7 852L579.9 856ZM594.3 873L600.1 869L605.9 873L600.1 877Z" fill="#0000ff"/>
<path d="M199.9 1011.4V1003.8M199.9 602.2V607.6M299.9 1011.4V1003.8M299.9 602.2V607.6M399.9 1011.4V1003.8M399.9 602.2V607.6M499.9 1011.4V1003.8M499.9 602.2V607.6M599.9 1011.4V1003.8M599.9 602.2V607.6M100.7 909.1H105.8M701.4 909.1H694.1M100.7 806.8H105.8M701.4 806.8H694.1M100.7 704.5H105.8M701.4 704.5H694.1" stroke="#000" stroke-width="2.2" fill="none"/>
<rect x="100.7" y="602.2" width="600.7" height="409.2" fill="none" stroke="#000" stroke-width="2.2"/>
<text transform="translate(97.9 1046.8) scale(1 1.045)" class="tk" text-anchor="middle">0.4</text>
<text transform="translate(197.9 1046.8) scale(1 1.045)" class="tk" text-anchor="middle">0.5</text>
<text transform="translate(297.9 1046.8) scale(1 1.045)" class="tk" text-anchor="middle">0.6</text>
<text transform="translate(397.9 1046.8) scale(1 1.045)" class="tk" text-anchor="middle">0.7</text>
<text transform="translate(497.9 1046.8) scale(1 1.045)" class="tk" text-anchor="middle">0.8</text>
<text transform="translate(597.9 1046.8) scale(1 1.045)" class="tk" text-anchor="middle">0.9</text>
<path d="M703.5 1046.3L703.5 1023.5L701.3 1023.5L693.9 1028.9L693.9 1032.7L699.1 1029.7L699.1 1046.3Z" fill="#000"/>
<text transform="translate(90.7 1021.2) scale(1 1.05)" class="tk" text-anchor="end">0</text>
<text transform="translate(90.7 918.9) scale(1 1.05)" class="tk" text-anchor="end">0.2</text>
<text transform="translate(90.7 816.6) scale(1 1.05)" class="tk" text-anchor="end">0.4</text>
<text transform="translate(90.7 714.3) scale(1 1.05)" class="tk" text-anchor="end">0.6</text>
<text transform="translate(90.7 612) scale(1 1.05)" class="tk" text-anchor="end">0.8</text>
<text transform="translate(397.35 1091.5) scale(1.011 1.09)" class="lb" text-anchor="middle">Sparsity Degree</text>
<text transform="translate(30.5 803.5) rotate(-90) scale(0.996 1.07)" class="lb" text-anchor="middle">Local Efficiency</text>
<path d="M992.72 715.4V762.1M987.22 715.4H998.22M987.22 762.1H998.22M1012.7 730.6V780M1007.2 730.6H1018.2M1007.2 780H1018.2M1032.85 747.7V796.4M1027.35 747.7H1038.35M1027.35 796.4H1038.35M1052.1 761.6V809.7M1046.6 761.6H1057.6M1046.6 809.7H1057.6M1072.3 775.6V825.6M1066.8 775.6H1077.8M1066.8 825.6H1077.8M1092.3 792.6V843.9M1086.8 792.6H1097.8M1086.8 843.9H1097.8M1112.45 804.9V859.9M1106.95 804.9H1117.95M1106.95 859.9H1117.95M1132.65 817.7V878.1M1127.15 817.7H1138.15M1127.15 878.1H1138.15M1153.25 839.2V893.6M1147.75 839.2H1158.75M1147.75 893.6H1158.75M1173.05 855.3V907.2M1167.55 855.3H1178.55M1167.55 907.2H1178.55M1193.5 875.7V923M1188 875.7H1199M1188 923H1199M1212.6 891.8V932.1M1207.1 891.8H1218.1M1207.1 932.1H1218.1M1232.3 904.9V941.3M1226.8 904.9H1237.8M1226.8 941.3H1237.8M1252.7 920.7V945.7M1247.2 920.7H1258.2M1247.2 945.7H1258.2M1272.85 934.2V952.2M1267.35 934.2H1278.35M1267.35 952.2H1278.35M1293.5 944V959.4M1288 944H1299M1288 959.4H1299M1313.25 955.8V963.8M1307.75 955.8H1318.75M1307.75 963.8H1318.75M1333.05 963.5V970.7M1327.55 963.5H1338.55M1327.55 970.7H1338.55M1352.8 969.8V977M1347.3 969.8H1358.3M1347.3 977H1358.3M1372.8 976.2V983.4M1367.3 976.2H1378.3M1367.3 983.4H1378.3M1393 982.9V989.3M1387.5 982.9H1398.5M1387.5 989.3H1398.5" stroke="#ff0000" stroke-width="2.4" fill="none"/>
<polyline points="992.72,738.75 1012.7,755.3 1032.85,772.05 1052.1,785.65 1072.3,800.6 1092.3,818.25 1112.45,832.4 1132.65,847.9 1153.25,866.4 1173.05,881.25 1193.5,899.35 1212.6,911.95 1232.3,923.1 1252.7,933.2 1272.85,943.2 1293.5,951.7 1313.25,959.8 1333.05,967.1 1352.8,973.4 1372.8,979.8 1393,986.1" stroke="#ff0000" stroke-width="1.7" fill="none" stroke-linejoin="round"/>
<path d="M986.92 738.75L992.72 734.75L998.52 738.75L992.72 742.75ZM1006.9 755.3L1012.7 751.3L1018.5 755.3L1012.7 759.3ZM1027.05 772.05L1032.85 768.05L1038.65 772.05L1032.85 776.05ZM1046.3 785.65L1052.1 781.65L1057.9 785.65L1052.1 789.65ZM1066.5 800.6L1072.3 796.6L1078.1 800.6L1072.3 804.6ZM1086.5 818.25L1092.3 814.25L1098.1 818.25L1092.3 822.25ZM1106.65 832.4L1112.45 828.4L1118.25 832.4L1112.45 836.4ZM1126.85 847.9L1132.65 843.9L1138.45 847.9L1132.65 851.9ZM1147.45 866.4L1153.25 862.4L1159.05 866.4L1153.25 870.4ZM1167.25 881.25L1173.05 877.25L1178.85 881.25L1173.05 885.25ZM1187.7 899.35L1193.5 895.35L1199.3 899.35L1193.5 903.35ZM1206.8 911.95L1212.6 907.95L1218.4 911.95L1212.6 915.95ZM1226.5 923.1L1232.3 919.1L1238.1 923.1L1232.3 927.1ZM1246.9 933.2L1252.7 929.2L1258.5 933.2L1252.7 937.2ZM1267.05 943.2L1272.85 939.2L1278.65 943.2L1272.85 947.2ZM1287.7 951.7L1293.5 947.7L1299.3 951.7L1293.5 955.7ZM1307.45 959.8L1313.25 955.8L1319.05 959.8L1313.25 963.8ZM1327.25 967.1L1333.05 963.1L1338.85 967.1L1333.05 971.1ZM1347 973.4L1352.8 969.4L1358.6 973.4L1352.8 977.4ZM1367 979.8L1372.8 975.8L1378.6 979.8L1372.8 983.8ZM1387.2 986.1L1393 982.1L1398.8 986.1L1393 990.1Z" fill="#ff0000"/>
<path d="M992.72 710.5V756.2M987.22 710.5H998.22M987.22 756.2H998.22M1012.7 719.6V769.8M1007.2 719.6H1018.2M1007.2 769.8H1018.2M1032.85 730.9V783.3M1027.35 730.9H1038.35M1027.35 783.3H1038.35M1052.1 744.5V796.7M1046.6 744.5H1057.6M1046.6 796.7H1057.6M1072.3 756.2V807.3M1066.8 756.2H1077.8M1066.8 807.3H1077.8M1092.3 772V819.4M1086.8 772H1097.8M1086.8 819.4H1097.8M1112.45 782.7V833.3M1106.95 782.7H1117.95M1106.95 833.3H1117.95M1132.65 794.1V847.9M1127.15 794.1H1138.15M1127.15 847.9H1138.15M1153.25 808V861.8M1147.75 808H1158.75M1147.75 861.8H1158.75M1173.05 821.3V875.7M1167.55 821.3H1178.55M1167.55 875.7H1178.55M1193.5 837.5V889M1188 837.5H1199M1188 889H1199M1212.6 855.4V900.8M1207.1 855.4H1218.1M1207.1 900.8H1218.1M1232.3 871.7V914.7M1226.8 871.7H1237.8M1226.8 914.7H1237.8M1252.7 887.8V926.8M1247.2 887.8H1258.2M1247.2 926.8H1258.2M1272.85 900V934.7M1267.35 900H1278.35M1267.35 934.7H1278.35M1293.5 916.3V945.8M1288 916.3H1299M1288 945.8H1299M1313.25 930.1V956.1M1307.75 930.1H1318.75M1307.75 956.1H1318.75M1333.05 943.5V962.5M1327.55 943.5H1338.55M1327.55 962.5H1338.55M1352.8 957V970M1347.3 957H1358.3M1347.3 970H1358.3M1372.8 967.5V977.5M1367.3 967.5H1378.3M1367.3 977.5H1378.3M1393 974.4V983.4M1387.5 974.4H1398.5M1387.5 983.4H1398.5" stroke="#4daf1f" stroke-width="2.4" fill="none"/>
<polyline points="992.72,733.35 1012.7,744.7 1032.85,757.1 1052.1,770.6 1072.3,781.75 1092.3,795.7 1112.45,808 1132.65,821 1153.25,834.9 1173.05,848.5 1193.5,863.25 1212.6,878.1 1232.3,893.2 1252.7,907.3 1272.85,917.35 1293.5,931.05 1313.25,943.1 1333.05,953 1352.8,963.5 1372.8,972.5 1393,978.9" stroke="#4daf1f" stroke-width="1.7" fill="none" stroke-linejoin="round"/>
<path d="M986.92 733.35L992.72 729.35L998.52 733.35L992.72 737.35ZM1006.9 744.7L1012.7 740.7L1018.5 744.7L1012.7 748.7ZM1027.05 757.1L1032.85 753.1L1038.65 757.1L1032.85 761.1ZM1046.3 770.6L1052.1 766.6L1057.9 770.6L1052.1 774.6ZM1066.5 781.75L1072.3 777.75L1078.1 781.75L1072.3 785.75ZM1086.5 795.7L1092.3 791.7L1098.1 795.7L1092.3 799.7ZM1106.65 808L1112.45 804L1118.25 808L1112.45 812ZM1126.85 821L1132.65 817L1138.45 821L1132.65 825ZM1147.45 834.9L1153.25 830.9L1159.05 834.9L1153.25 838.9ZM1167.25 848.5L1173.05 844.5L1178.85 848.5L1173.05 852.5ZM1187.7 863.25L1193.5 859.25L1199.3 863.25L1193.5 867.25ZM1206.8 878.1L1212.6 874.1L1218.4 878.1L1212.6 882.1ZM1226.5 893.2L1232.3 889.2L1238.1 893.2L1232.3 897.2ZM1246.9 907.3L1252.7 903.3L1258.5 907.3L1252.7 911.3ZM1267.05 917.35L1272.85 913.35L1278.65 917.35L1272.85 921.35ZM1287.7 931.05L1293.5 927.05L1299.3 931.05L1293.5 935.05ZM1307.45 943.1L1313.25 939.1L1319.05 943.1L1313.25 947.1ZM1327.25 953L1333.05 949L1338.85 953L1333.05 957ZM1347 963.5L1352.8 959.5L1358.6 963.5L1352.8 967.5ZM1367 972.5L1372.8 968.5L1378.6 972.5L1372.8 976.5ZM1387.2 978.9L1393 974.9L1398.8 978.9L1393 982.9Z" fill="#4daf1f"/>
<path d="M992.72 647.3V724.4M987.22 647.3H998.22M987.22 724.4H998.22M1012.7 663.3V735.2M1007.2 663.3H1018.2M1007.2 735.2H1018.2M1032.85 679.2V747.7M1027.35 679.2H1038.35M1027.35 747.7H1038.35M1052.1 695V760.8M1046.6 695H1057.6M1046.6 760.8H1057.6M1072.3 713.1V773.8M1066.8 713.1H1077.8M1066.8 773.8H1077.8M1092.3 729V784.9M1086.8 729H1097.8M1086.8 784.9H1097.8M1112.45 742.5V800.8M1106.95 742.5H1117.95M1106.95 800.8H1117.95M1132.65 757.8V812.2M1127.15 757.8H1138.15M1127.15 812.2H1138.15M1153.25 769.8V825.9M1147.75 769.8H1158.75M1147.75 825.9H1158.75M1173.05 780.7V839.3M1167.55 780.7H1178.55M1167.55 839.3H1178.55M1193.5 789.8V851M1188 789.8H1199M1188 851H1199M1212.6 801.2V860M1207.1 801.2H1218.1M1207.1 860H1218.1M1232.3 814.6V873M1226.8 814.6H1237.8M1226.8 873H1237.8M1252.7 828.5V887.2M1247.2 828.5H1258.2M1247.2 887.2H1258.2M1272.85 846.1V898.7M1267.35 846.1H1278.35M1267.35 898.7H1278.35M1293.5 860V911.9M1288 860H1299M1288 911.9H1299M1313.25 877.9V925.3M1307.75 877.9H1318.75M1307.75 925.3H1318.75M1333.05 896.2V939.1M1327.55 896.2H1338.55M1327.55 939.1H1338.55M1352.8 914.1V948M1347.3 914.1H1358.3M1347.3 948H1358.3M1372.8 932.2V961.6M1367.3 932.2H1378.3M1367.3 961.6H1378.3M1393 952.6V973M1387.5 952.6H1398.5M1387.5 973H1398.5" stroke="#0000ff" stroke-width="2.4" fill="none"/>
<polyline points="992.72,685.85 1012.7,699.25 1032.85,713.45 1052.1,727.9 1072.3,743.45 1092.3,756.95 1112.45,771.65 1132.65,785 1153.25,797.85 1173.05,810 1193.5,820.4 1212.6,830.6 1232.3,843.8 1252.7,857.85 1272.85,872.4 1293.5,885.95 1313.25,901.6 1333.05,917.65 1352.8,931.05 1372.8,946.9 1393,962.8" stroke="#0000ff" stroke-width="1.7" fill="none" stroke-linejoin="round"/>
<path d="M986.92 685.85L992.72 681.85L998.52 685.85L992.72 689.85ZM1006.9 699.25L1012.7 695.25L1018.5 699.25L1012.7 703.25ZM1027.05 713.45L1032.85 709.45L1038.65 713.45L1032.85 717.45ZM1046.3 727.9L1052.1 723.9L1057.9 727.9L1052.1 731.9ZM1066.5 743.45L1072.3 739.45L1078.1 743.45L1072.3 747.45ZM1086.5 756.95L1092.3 752.95L1098.1 756.95L1092.3 760.95ZM1106.65 771.65L1112.45 767.65L1118.25 771.65L1112.45 775.65ZM1126.85 785L1132.65 781L1138.45 785L1132.65 789ZM1147.45 797.85L1153.25 793.85L1159.05 797.85L1153.25 801.85ZM1167.25 810L1173.05 806L1178.85 810L1173.05 814ZM1187.7 820.4L1193.5 816.4L1199.3 820.4L1193.5 824.4ZM1206.8 830.6L1212.6 826.6L1218.4 830.6L1212.6 834.6ZM1226.5 843.8L1232.3 839.8L1238.1 843.8L1232.3 847.8ZM1246.9 857.85L1252.7 853.85L1258.5 857.85L1252.7 861.85ZM1267.05 872.4L1272.85 868.4L1278.65 872.4L1272.85 876.4ZM1287.7 885.95L1293.5 881.95L1299.3 885.95L1293.5 889.95ZM1307.45 901.6L1313.25 897.6L1319.05 901.6L1313.25 905.6ZM1327.25 917.65L1333.05 913.65L1338.85 917.65L1333.05 921.65ZM1347 931.05L1352.8 927.05L1358.6 931.05L1352.8 935.05ZM1367 946.9L1372.8 942.9L1378.6 946.9L1372.8 950.9ZM1387.2 962.8L1393 958.8L1398.8 962.8L1393 966.8Z" fill="#0000ff"/>
<path d="M992.8 1011.4V1003.8M992.8 602.2V607.6M1092.8 1011.4V1003.8M1092.8 602.2V607.6M1192.8 1011.4V1003.8M1192.8 602.2V607.6M1292.8 1011.4V1003.8M1292.8 602.2V607.6M1392.8 1011.4V1003.8M1392.8 602.2V607.6M893.6 909.1H898.7M1494.4 909.1H1487.1M893.6 806.8H898.7M1494.4 806.8H1487.1M893.6 704.5H898.7M1494.4 704.5H1487.1" stroke="#000" stroke-width="2.2" fill="none"/>
<rect x="893.6" y="602.2" width="600.8" height="409.2" fill="none" stroke="#000" stroke-width="2.2"/>
<text transform="translate(890.8 1046.8) scale(1 1.045)" class="tk" text-anchor="middle">0.4</text>
<text transform="translate(990.8 1046.8) scale(1 1.045)" class="tk" text-anchor="middle">0.5</text>
<text transform="translate(1090.8 1046.8) scale(1 1.045)" class="tk" text-anchor="middle">0.6</text>
<text transform="translate(1190.8 1046.8) scale(1 1.045)" class="tk" text-anchor="middle">0.7</text>
<text transform="translate(1290.8 1046.8) scale(1 1.045)" class="tk" text-anchor="middle">0.8</text>
<text transform="translate(1390.8 1046.8) scale(1 1.045)" class="tk" text-anchor="middle">0.9</text>
<path d="M1496.4 1046.3L1496.4 1023.5L1494.2 1023.5L1486.8 1028.9L1486.8 1032.7L1492 1029.7L1492 1046.3Z" fill="#000"/>
<text transform="translate(883.6 1021.2) scale(1 1.05)" class="tk" text-anchor="end">0</text>
<path d="M879.2 918.9L879.2 896.1L877 896.1L869.6 901.5L869.6 905.3L874.8 902.3L874.8 918.9Z" fill="#000"/>
<text transform="translate(865.8 918.9) scale(1 1.05)" class="tk" text-anchor="end">0.</text>
<text transform="translate(883.6 816.6) scale(1 1.05)" class="tk" text-anchor="end">0.2</text>
<text transform="translate(883.6 714.3) scale(1 1.05)" class="tk" text-anchor="end">0.3</text>
<text transform="translate(883.6 612) scale(1 1.05)" class="tk" text-anchor="end">0.4</text>
<text transform="translate(1190.3 1091.5) scale(1.011 1.09)" class="lb" text-anchor="middle">Sparsity Degree</text>
<text transform="translate(823.7 803.3) rotate(-90) scale(0.996 1.07)" class="lb" text-anchor="middle">Global Efficiency</text>
<rect x="1259.3" y="645.4" width="187.3" height="134.9" fill="#fff" stroke="#000" stroke-width="2.2"/>
<path d="M1276.2 670.1H1368.7" stroke="#ff0000" stroke-width="2.4"/>
<path d="M1318.3 670.1L1322.5 664.5L1326.7 670.1L1322.5 675.7Z" fill="#ff0000"/>
<text x="1377.5" y="681.9" class="lg">SZ</text>
<path d="M1276.2 713.3H1368.7" stroke="#4daf1f" stroke-width="2.4"/>
<path d="M1318.3 713.3L1322.5 707.7L1326.7 713.3L1322.5 718.9Z" fill="#4daf1f"/>
<text x="1377.5" y="725.1" class="lg">REL</text>
<path d="M1276.2 753.3H1368.7" stroke="#0000ff" stroke-width="2.4"/>
<path d="M1318.3 753.3L1322.5 747.7L1326.7 753.3L1322.5 758.9Z" fill="#0000ff"/>
<text x="1377.5" y="765.1" class="lg">HCs</text>
</svg>
</body></html>
